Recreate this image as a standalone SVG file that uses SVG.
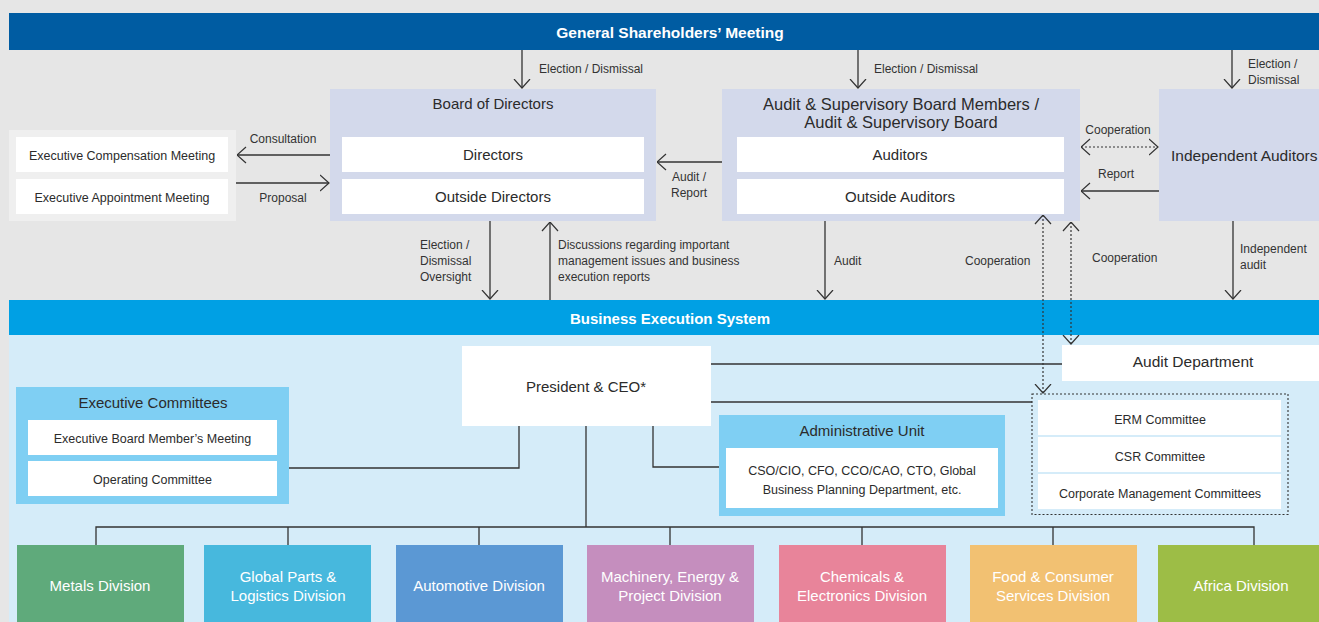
<svg xmlns="http://www.w3.org/2000/svg" width="1319" height="622" viewBox="0 0 1319 622">
<defs>
<marker id="ah" viewBox="0 0 10 18" refX="9.5" refY="9" markerWidth="10" markerHeight="18" markerUnits="userSpaceOnUse" orient="auto-start-reverse">
<path d="M0.5,1 L9.5,9 L0.5,17" fill="none" stroke="#333" stroke-width="1.2"/>
</marker>
</defs>
<style>
text{font-family:"Liberation Sans",Arial,sans-serif;fill:#2b2b2b}
.t15{font-size:15px}
.t155{font-size:15.5px}
.t12{font-size:12px;fill:#333}
.t125{font-size:12.5px}
.c{text-anchor:middle}
.hb{font-size:15.5px;font-weight:bold;fill:#fff}
.w{fill:#fff}
.pale{fill:#d3d9eb}
.ln{stroke:#333;stroke-width:1.3;fill:none}
.ar{stroke:#333;stroke-width:1.3;fill:none;marker-end:url(#ah)}
.dot{stroke:#333;stroke-width:1.2;fill:none;stroke-dasharray:2 2}
.div{font-size:15px;fill:#fff;text-anchor:middle}
</style>
<rect x="0" y="0" width="1319" height="622" fill="#e6e6e6"/>
<rect x="9" y="335" width="1310" height="287" fill="#d5ecf9"/>

<g id="gsm">
<rect x="9" y="13" width="1310" height="37" fill="#005ca2"/>
<text class="hb c" x="670" y="38">General Shareholders’ Meeting</text>
</g>

<g id="bes">
<rect x="9" y="300" width="1310" height="35" fill="#00a0e4"/>
<text class="hb c" x="670" y="324" style="font-size:15px">Business Execution System</text>
</g>

<g id="exec-meetings">
<rect x="9" y="130" width="227" height="91" fill="#efefef"/>
<rect x="16" y="137" width="212" height="35" class="w"/>
<rect x="16" y="179" width="212" height="35" class="w"/>
<text class="t125 c" x="122" y="159.5">Executive Compensation Meeting</text>
<text class="t125 c" x="122" y="201.5">Executive Appointment Meeting</text>
</g>

<g id="board">
<rect x="330" y="89" width="326" height="132" class="pale"/>
<text class="t15 c" x="493" y="109">Board of Directors</text>
<rect x="342" y="137" width="302" height="35" class="w"/>
<rect x="342" y="179" width="302" height="35" class="w"/>
<text class="t15 c" x="493" y="160">Directors</text>
<text class="t15 c" x="493" y="202">Outside Directors</text>
</g>

<g id="audit-board">
<rect x="722" y="89" width="358" height="132" class="pale"/>
<text class="c" x="901" y="109.5" style="font-size:16.5px">Audit &amp; Supervisory Board Members /</text>
<text class="c" x="901" y="128" style="font-size:16.5px">Audit &amp; Supervisory Board</text>
<rect x="737" y="137" width="327" height="35" class="w"/>
<rect x="737" y="179" width="327" height="35" class="w"/>
<text class="t15 c" x="900" y="160">Auditors</text>
<text class="t15 c" x="900" y="202">Outside Auditors</text>
</g>

<g id="independent-auditors">
<rect x="1159" y="89" width="160" height="132" class="pale"/>
<text class="t155" x="1171" y="161">Independent Auditors</text>
</g>

<g id="president">
<rect x="462" y="346" width="249" height="80" class="w"/>
<text class="t15 c" x="586" y="392">President &amp; CEO*</text>
</g>

<g id="audit-department">
<rect x="1062" y="345" width="257" height="36" class="w"/>
<text class="t15 c" x="1193" y="366.5" style="font-size:15.5px">Audit Department</text>
</g>

<g id="executive-committees">
<rect x="16" y="387" width="273" height="117" fill="#7fcff3"/>
<text class="t15 c" x="153" y="408">Executive Committees</text>
<rect x="28" y="420" width="249" height="35" class="w"/>
<rect x="28" y="461" width="249" height="35" class="w"/>
<text class="t125 c" x="152.5" y="442.5">Executive Board Member’s Meeting</text>
<text class="t125 c" x="152.5" y="484">Operating Committee</text>
</g>

<g id="administrative-unit">
<rect x="719" y="415" width="286" height="101" fill="#7fcff3"/>
<text class="t15 c" x="862" y="436">Administrative Unit</text>
<rect x="726" y="448" width="272" height="60" class="w"/>
<text class="t125 c" x="862" y="474.5">CSO/CIO, CFO, CCO/CAO, CTO, Global</text>
<text class="t125 c" x="862" y="493.5">Business Planning Department, etc.</text>
</g>

<g id="committees">
<rect x="1032" y="394" width="256" height="120.5" fill="none" stroke="#333" stroke-width="1.1" stroke-dasharray="2 2"/>
<rect x="1038" y="400" width="243" height="35" class="w"/>
<rect x="1038" y="437" width="243" height="35" class="w"/>
<rect x="1038" y="474" width="243" height="35" class="w"/>
<text class="t125 c" x="1160" y="423.5">ERM Committee</text>
<text class="t125 c" x="1160" y="460.5">CSR Committee</text>
<text class="t125 c" x="1160" y="497.5">Corporate Management Committees</text>
</g>

<g id="divisions">
<g id="div-metals"><rect x="17" y="545" width="167" height="77" fill="#5faa7b"/><text class="div" x="100" y="591">Metals Division</text></g>
<g id="div-global"><rect x="204" y="545" width="167" height="77" fill="#47b8dd"/><text class="div" x="288" y="582">Global Parts &amp;</text><text class="div" x="288" y="601">Logistics Division</text></g>
<g id="div-auto"><rect x="396" y="545" width="167" height="77" fill="#5b98d4"/><text class="div" x="479" y="591">Automotive Division</text></g>
<g id="div-machinery"><rect x="587" y="545" width="167" height="77" fill="#c58ebe"/><text class="div" x="670" y="582">Machinery, Energy &amp;</text><text class="div" x="670" y="601">Project Division</text></g>
<g id="div-chemicals"><rect x="779" y="545" width="167" height="77" fill="#e8849a"/><text class="div" x="862" y="582">Chemicals &amp;</text><text class="div" x="862" y="601">Electronics Division</text></g>
<g id="div-food"><rect x="970" y="545" width="167" height="77" fill="#f2c172"/><text class="div" x="1053" y="582">Food &amp; Consumer</text><text class="div" x="1053" y="601">Services Division</text></g>
<g id="div-africa"><rect x="1158" y="545" width="161" height="77" fill="#9dbd46"/><text class="div" x="1241" y="591">Africa Division</text></g>
</g>

<g id="connectors">
<path class="ar" d="M522,50 V88"/>
<path class="ar" d="M858,50 V88"/>
<path class="ar" d="M1232,50 V88"/>
<path class="ar" d="M330,155 H237"/>
<path class="ar" d="M236,183 H329"/>
<path class="ar" d="M722,162 H657"/>
<path class="dot" d="M1081,147 H1158" style="marker-start:url(#ah);marker-end:url(#ah)"/>
<path class="ar" d="M1159,191 H1081"/>
<path class="ar" d="M490,221 V299"/>
<path class="ar" d="M550,300 V222"/>
<path class="ar" d="M825,221 V299"/>
<path class="ar" d="M1233,221 V299"/>
<path class="dot" d="M1043,215 V393" style="marker-start:url(#ah);marker-end:url(#ah)"/>
<path class="dot" d="M1071,222 V344" style="marker-start:url(#ah);marker-end:url(#ah)"/>
<path class="ln" d="M711,364 H1062"/>
<path class="ln" d="M711,402 H1032"/>
<path class="ln" d="M289,468 H519 V426"/>
<path class="ln" d="M653,426 V467 H719"/>
<path class="ln" d="M586,426 V527"/>
<path class="ln" d="M96,545 V527 H1254 V545"/>
<path class="ln" d="M288,527 V545 M479,527 V545 M670,527 V545 M862,527 V545 M1053,527 V545"/>
</g>

<g id="labels">
<text class="t12" x="539" y="73">Election / Dismissal</text>
<text class="t12" x="874" y="73">Election / Dismissal</text>
<text class="t12" x="1248" y="68">Election /</text>
<text class="t12" x="1248" y="84">Dismissal</text>
<text class="t12 c" x="283" y="143">Consultation</text>
<text class="t12 c" x="283" y="202">Proposal</text>
<text class="t12 c" x="689" y="181">Audit /</text>
<text class="t12 c" x="689" y="197">Report</text>
<text class="t12 c" x="1118" y="134">Cooperation</text>
<text class="t12 c" x="1116" y="178">Report</text>
<text class="t12" x="420" y="249">Election /</text>
<text class="t12" x="420" y="265">Dismissal</text>
<text class="t12" x="420" y="281">Oversight</text>
<text class="t12" x="558" y="249">Discussions regarding important</text>
<text class="t12" x="558" y="265">management issues and business</text>
<text class="t12" x="558" y="281">execution reports</text>
<text class="t12" x="834" y="265">Audit</text>
<text class="t12" x="965" y="265">Cooperation</text>
<text class="t12" x="1092" y="262">Cooperation</text>
<text class="t12" x="1240" y="253">Independent</text>
<text class="t12" x="1240" y="269">audit</text>
</g>
</svg>
